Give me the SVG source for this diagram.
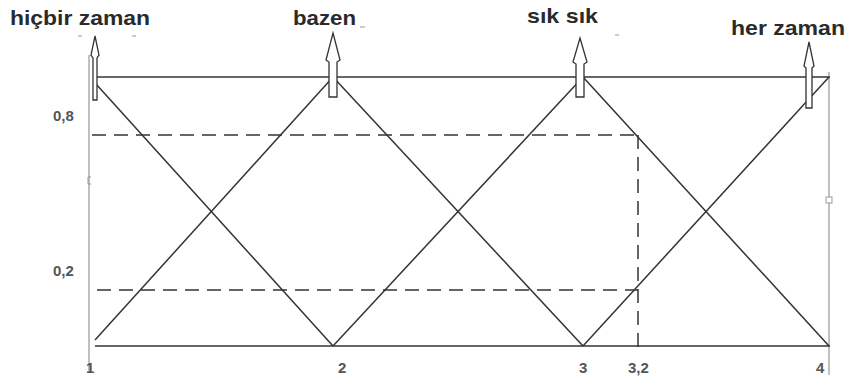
<svg xmlns="http://www.w3.org/2000/svg" width="848" height="378" viewBox="0 0 848 378">
<style>
.lbl{font-family:"Liberation Sans",Arial,sans-serif;font-size:21px;fill:#2a2a2a;font-weight:bold;}
.num{font-family:"Liberation Sans",Arial,sans-serif;font-size:15px;fill:#555;font-weight:bold;}
.ln{stroke:#333;stroke-width:1.5;fill:none;}
.ax{stroke:#c0c0c0;stroke-width:2;fill:none;}
.dash{stroke:#333;stroke-width:1.5;fill:none;stroke-dasharray:14,8;}
.arr{stroke:#333;stroke-width:1.3;fill:#fff;}
.tick{stroke:#999;stroke-width:1;}
</style>
<rect width="848" height="378" fill="#fff"/>
<g id="axes">
<line class="ax" x1="89" y1="55" x2="89" y2="372"/>
<line class="ax" x1="829" y1="72" x2="829" y2="375"/>
<path d="M91 177 L88 177 L88 184 L91 184" stroke="#999" fill="none" stroke-width="1"/>
<rect x="826" y="197" width="6" height="6" fill="#fff" stroke="#999" stroke-width="1"/>
<line class="tick" x1="78" y1="36" x2="82" y2="36"/>
<line class="tick" x1="132" y1="36" x2="136" y2="36"/>
<line class="tick" x1="360" y1="27" x2="365" y2="27"/>
<line class="tick" x1="615" y1="35" x2="619" y2="35"/>
</g>
<g id="connectors">
<line class="ln" x1="95" y1="77" x2="830" y2="77"/>
<line class="ln" x1="95" y1="346" x2="830" y2="346"/>
<line class="ln" x1="96" y1="84" x2="333" y2="346"/>
<line class="ln" x1="95" y1="340" x2="333" y2="77"/>
<line class="ln" x1="333" y1="77" x2="583" y2="346"/>
<line class="ln" x1="333" y1="346" x2="583" y2="77"/>
<line class="ln" x1="583" y1="77" x2="829" y2="346"/>
<line class="ln" x1="583" y1="346" x2="829" y2="77"/>
<line class="dash" x1="92" y1="135" x2="638" y2="135"/>
<line class="dash" x1="97" y1="290" x2="638" y2="290"/>
<line class="dash" x1="638" y1="135" x2="638" y2="352"/>
</g>
<g id="arrow-1"><path class="arr" d="M95 36 L99 55 L97 58 L97 100 L93 100 L93 58 L91 55 Z"/></g>
<g id="arrow-2"><path class="arr" d="M333 33 L340 60 L337 62 L337 97 L329 97 L329 62 L326 60 Z"/></g>
<g id="arrow-3"><path class="arr" d="M580 38 L587 62 L584 64 L584 97 L576 97 L576 64 L573 62 Z"/></g>
<g id="arrow-4"><path class="arr" d="M809 42 L814 66 L812 68 L812 108 L806 108 L806 68 L804 66 Z"/></g>
<g id="label-hicbir"><text class="lbl" x="10" y="25" textLength="140" lengthAdjust="spacingAndGlyphs">hiçbir zaman</text></g>
<g id="label-bazen"><text class="lbl" x="293" y="25" textLength="63" lengthAdjust="spacingAndGlyphs">bazen</text></g>
<g id="label-sik"><text class="lbl" x="527" y="23" textLength="71" lengthAdjust="spacingAndGlyphs">sık sık</text></g>
<g id="label-her"><text class="lbl" x="731" y="35" textLength="114" lengthAdjust="spacingAndGlyphs">her zaman</text></g>
<g id="ticks">
<text class="num" x="53" y="121">0,8</text>
<text class="num" x="53" y="276">0,2</text>
<text class="num" x="86" y="373">1</text>
<text class="num" x="338" y="373">2</text>
<text class="num" x="579" y="373">3</text>
<text class="num" x="628" y="373">3,2</text>
<text class="num" x="816" y="373">4</text>
</g>
</svg>
